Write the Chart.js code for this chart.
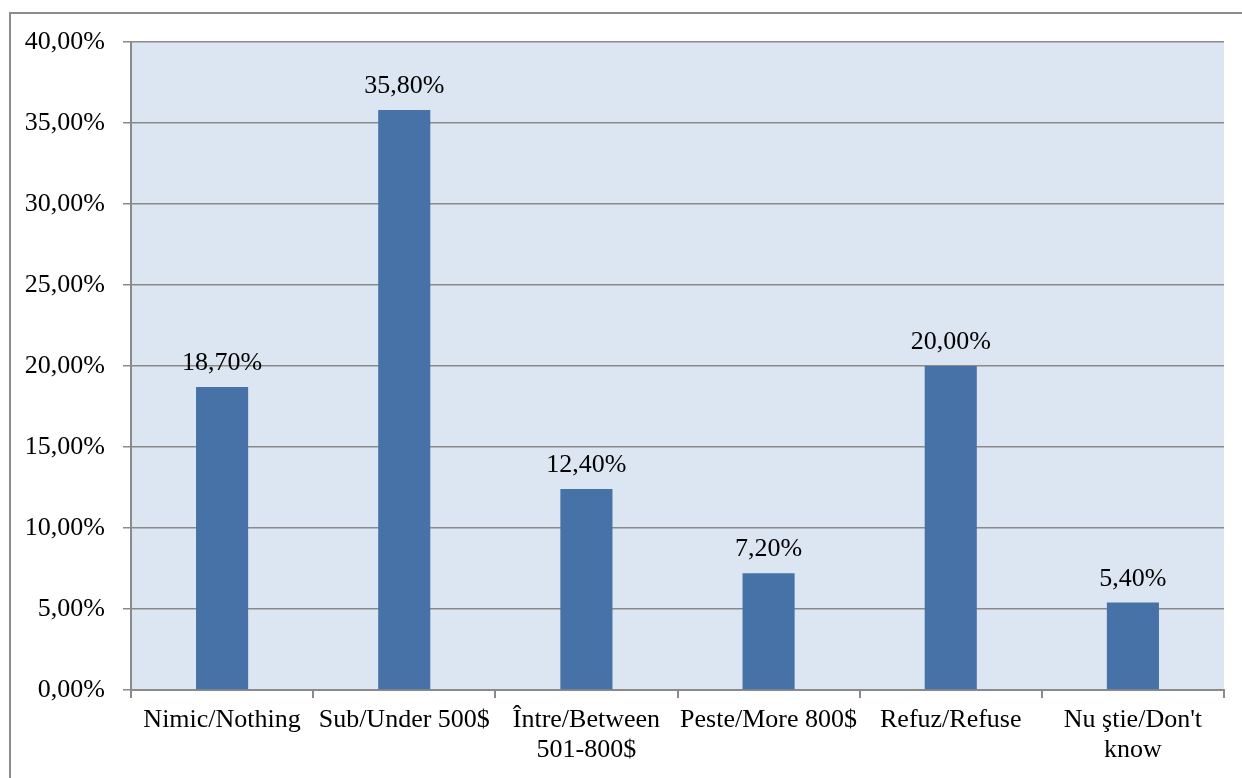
<!DOCTYPE html>
<html>
<head>
<meta charset="utf-8">
<script src="https://cdn.jsdelivr.net/npm/chart.js@4"></script>
<style>
  html, body { margin: 0; padding: 0; background: #fff; }
  #wrap { width: 1242px; height: 778px; }
</style>
</head>
<body>
<div id="wrap"><canvas id="c" width="1242" height="778"></canvas></div>
<script>
// date
const categories = [
  'Nimic/Nothing',
  'Sub/Under 500$',
  ['Între/Between', '501-800$'],
  'Peste/More 800$',
  'Refuz/Refuse',
  ["Nu ştie/Don't", 'know'],
];
const values = [18.7, 35.8, 12.4, 7.2, 20.0, 5.4];
const valueLabels = ['18,70%', '35,80%', '12,40%', '7,20%', '20,00%', '5,40%'];
const yTickLabels = ['0,00%', '5,00%', '10,00%', '15,00%', '20,00%', '25,00%', '30,00%', '35,00%', '40,00%'];

const FONT = "'Liberation Serif', 'Times New Roman', serif";
const GRID = '#8a8a8a';

// fundal, chenar exterior, zona de desen
const backdrop = {
  id: 'backdrop',
  beforeDraw(chart) {
    const { ctx, chartArea: a } = chart;
    ctx.save();
    ctx.fillStyle = '#fff';
    ctx.fillRect(0, 0, chart.width, chart.height);
    ctx.fillStyle = '#dce6f2';
    ctx.fillRect(a.left, a.top, a.right - a.left, a.bottom - a.top);
    ctx.strokeStyle = '#8c8c8c';
    ctx.lineWidth = 2;
    ctx.beginPath();
    ctx.moveTo(10, chart.height);
    ctx.lineTo(10, 13);
    ctx.lineTo(chart.width, 13);
    ctx.stroke();
    ctx.restore();
  },
};

// etichete deasupra barelor
const barLabels = {
  id: 'barLabels',
  afterDatasetsDraw(chart) {
    const { ctx } = chart;
    const meta = chart.getDatasetMeta(0);
    ctx.save();
    ctx.font = '26px ' + FONT;
    ctx.fillStyle = '#000';
    ctx.textAlign = 'center';
    ctx.textBaseline = 'alphabetic';
    meta.data.forEach((bar, i) => {
      ctx.fillText(valueLabels[i], bar.x, bar.y - 17);
    });
    ctx.restore();
  },
};

new Chart(document.getElementById('c'), {
  type: 'bar',
  data: {
    labels: categories,
    datasets: [{
      data: values,
      backgroundColor: '#4672a8',
      borderWidth: 0,
      barPercentage: 0.286,
      categoryPercentage: 1,
    }],
  },
  options: {
    responsive: false,
    animation: false,
    layout: { padding: { left: 0, right: 18, top: 42, bottom: 0 } },
    plugins: {
      legend: { display: false },
      tooltip: { enabled: false },
    },
    scales: {
      x: {
        grid: { display: true, drawOnChartArea: false, drawTicks: true, tickLength: 8, color: GRID, lineWidth: 2, offset: true },
        border: { color: GRID, width: 2 },
        ticks: { color: '#000', font: { family: FONT, size: 26, lineHeight: '30px' }, padding: 7, maxRotation: 0, autoSkip: false },
        afterFit(scale) { scale.height = 88; },
      },
      y: {
        min: 0,
        max: 40,
        ticks: {
          stepSize: 5,
          color: '#000',
          font: { family: FONT, size: 26 },
          padding: 18,
          callback: (v, i) => yTickLabels[i],
        },
        grid: { color: GRID, lineWidth: 1.5, tickLength: 8 },
        border: { color: GRID, width: 2 },
        afterFit(scale) { scale.width = 131; },
      },
    },
  },
  plugins: [backdrop, barLabels],
});
</script>
</body>
</html>
